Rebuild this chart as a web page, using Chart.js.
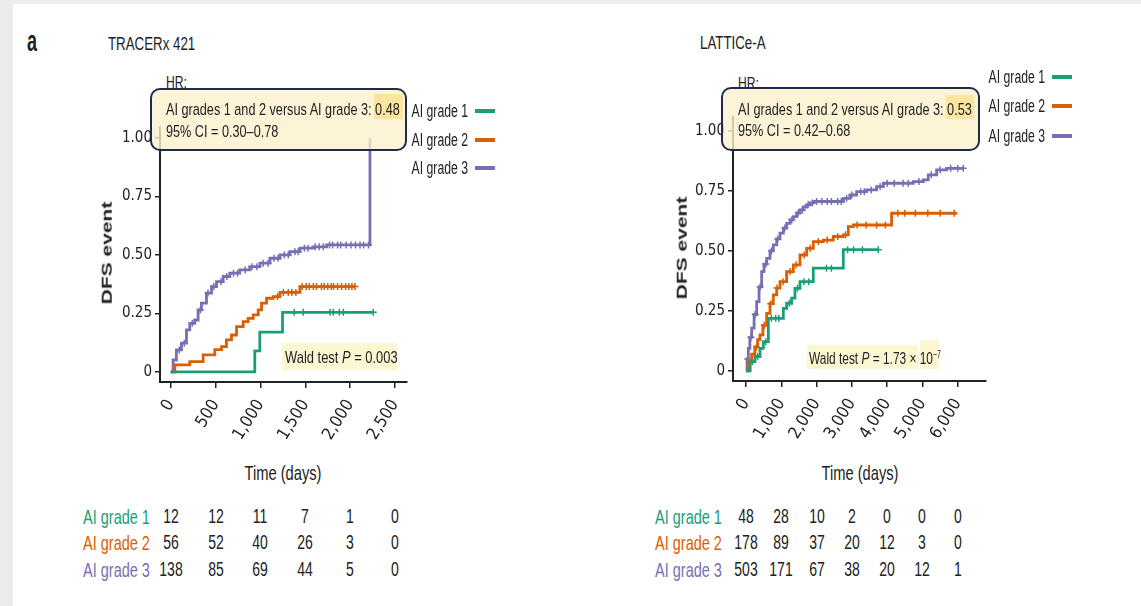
<!DOCTYPE html>
<html>
<head>
<meta charset="utf-8">
<script src="https://cdn.jsdelivr.net/npm/chart.js@4.4.0/dist/chart.umd.min.js"></script>
<style>
html, body { margin: 0; padding: 0; }
body { width: 1141px; height: 606px; background: #ececec; position: relative; overflow: hidden;
       font-family: 'Liberation Sans', Arial, sans-serif; color: #222; }
#panel { position: absolute; left: 13px; top: 4px; right: 0; bottom: 0; background: #fff; }
canvas { position: absolute; }
.t { position: absolute; white-space: nowrap; line-height: 1; }
.box { position: absolute; box-sizing: border-box; }
sup { font-size: 0.6em; vertical-align: 0.55em; line-height: 0; }
</style>
</head>
<body>
<div id="panel"></div>
<canvas id="tracerx" width="420" height="360" style="left:100px;top:100px;width:420px;height:360px"></canvas>
<canvas id="lattice" width="420" height="360" style="left:680px;top:100px;width:420px;height:360px"></canvas>
<script>
// colours (Dark2)
const green = '#1b9e77';
const orange = '#d95f02';
const purple = '#7570b3';
const ink = '#222';

const groupNames = ['AI grade 1', 'AI grade 2', 'AI grade 3'];
const yTicks = [0, 0.25, 0.5, 0.75, 1];

// ---- TRACERx 421 ----
const tracerxTicks = [0, 500, 1000, 1500, 2000, 2500];
const tracerxG1Time = [0, 937, 993, 1246, 2258];
const tracerxG1Dfs = [0, 0.09, 0.17, 0.255, 0.255];
const tracerxG1Censor = [1376, 1477, 1775, 1812, 1879, 1924, 2258];
const tracerxG2Time = [0, 45, 212, 361, 491, 566, 621, 677, 733, 808, 863, 919, 975, 1012, 1068, 1142, 1217, 1440, 2054];
const tracerxG2Dfs = [0, 0.03, 0.044, 0.073, 0.095, 0.108, 0.137, 0.158, 0.194, 0.215, 0.229, 0.244, 0.265, 0.294, 0.315, 0.322, 0.34, 0.365, 0.365];
const tracerxG2Censor = [1190, 1255, 1310, 1350, 1395, 1465, 1510, 1545, 1590, 1625, 1680, 1710, 1750, 1790, 1815, 1860, 1905, 1950, 1985, 2020, 2054];
const tracerxG3Time = [0, 26, 63, 119, 175, 212, 268, 305, 342, 398, 454, 510, 584, 659, 770, 882, 994, 1106, 1217, 1329, 1440, 1589, 1738, 2221];
const tracerxG3Dfs = [0, 0.051, 0.094, 0.123, 0.18, 0.208, 0.222, 0.265, 0.294, 0.337, 0.365, 0.386, 0.408, 0.422, 0.436, 0.45, 0.465, 0.486, 0.5, 0.514, 0.529, 0.535, 0.543, 1.0];
const tracerxG3Censor = [95, 150, 240, 330, 415, 480, 560, 625, 700, 745, 830, 905, 960, 1030, 1085, 1150, 1195, 1265, 1310, 1385, 1420, 1490, 1530, 1610, 1655, 1700, 1770, 1805, 1860, 1895, 1955, 2010, 2060, 2110, 2150, 2205];
const tracerxRiskG1 = [12, 12, 11, 7, 1, 0];
const tracerxRiskG2 = [56, 52, 40, 26, 3, 0];
const tracerxRiskG3 = [138, 85, 69, 44, 5, 0];

// ---- LATTICe-A ----
const latticeTicks = [0, 1000, 2000, 3000, 4000, 5000, 6000];
const latticeG1Time = [0, 119, 255, 397, 491, 633, 1058, 1152, 1294, 1388, 1530, 1907, 2757, 3748];
const latticeG1Dfs = [0, 0.039, 0.06, 0.094, 0.122, 0.219, 0.261, 0.282, 0.303, 0.344, 0.372, 0.428, 0.505, 0.505];
const latticeG1Censor = [180, 330, 560, 720, 840, 930, 1230, 1460, 1640, 1780, 2280, 2420, 2880, 3050, 3300, 3748];
const latticeG2Time = [0, 66, 160, 250, 330, 397, 480, 586, 680, 774, 870, 963, 1152, 1341, 1530, 1719, 1907, 2191, 2474, 2757, 2899, 3040, 4126, 5968];
const latticeG2Dfs = [0, 0.039, 0.07, 0.1, 0.13, 0.15, 0.19, 0.24, 0.28, 0.317, 0.345, 0.372, 0.414, 0.442, 0.483, 0.511, 0.539, 0.545, 0.56, 0.567, 0.601, 0.608, 0.657, 0.657];
const latticeG2Censor = [300, 520, 700, 880, 1050, 1250, 1420, 1650, 1820, 2050, 2300, 2600, 2820, 3150, 3400, 3700, 3950, 4300, 4500, 4800, 5150, 5500, 5900];
const latticeG3Time = [0, 30, 66, 110, 161, 230, 302, 370, 444, 510, 586, 680, 774, 870, 963, 1060, 1152, 1250, 1341, 1440, 1530, 1620, 1719, 1810, 1907, 2757, 2946, 3135, 3418, 3701, 3890, 4740, 5023, 5164, 5401, 5684, 6156];
const latticeG3Dfs = [0, 0.05, 0.094, 0.14, 0.178, 0.235, 0.289, 0.35, 0.414, 0.445, 0.469, 0.5, 0.525, 0.55, 0.574, 0.595, 0.615, 0.63, 0.643, 0.658, 0.671, 0.683, 0.692, 0.7, 0.706, 0.719, 0.733, 0.747, 0.754, 0.768, 0.782, 0.789, 0.796, 0.817, 0.838, 0.844, 0.844];
const latticeG3Censor = [50, 140, 260, 400, 560, 720, 900, 1100, 1300, 1480, 1600, 1760, 1880, 2000, 2150, 2300, 2420, 2600, 2700, 2850, 3000, 3250, 3350, 3550, 3800, 4000, 4200, 4450, 4600, 4900, 5250, 5500, 5800, 6000, 6156];
const latticeRiskG1 = [48, 28, 10, 2, 0, 0, 0];
const latticeRiskG2 = [178, 89, 37, 20, 12, 3, 0];
const latticeRiskG3 = [503, 171, 67, 38, 20, 12, 1];

function stepValue(time, dfs, t) {
    let v = dfs[0];
    for (let i = 0; i < time.length; i++) {
        if (time[i] <= t) v = dfs[i];
    }
    return v;
}

function curve(time, dfs, color) {
    return {
        data: time.map((t, i) => ({x: t, y: dfs[i]})),
        stepped: 'before',
        borderColor: color,
        borderWidth: 2.8,
        pointRadius: 0,
        fill: false
    };
}

function censor(times, time, dfs, color) {
    return {
        data: times.map(t => ({x: t, y: stepValue(time, dfs, t)})),
        showLine: false,
        borderColor: color,
        pointStyle: 'cross',
        pointRadius: 3.5,
        pointBorderColor: color,
        pointBorderWidth: 1.5
    };
}

const tickFont = "'DejaVu Sans Condensed', 'Liberation Sans Narrow', sans-serif";

function kmChart(id, datasets, xTicks, xMin, xMax, yMin, yMax, pad, yWidth, xHeight) {
    return new Chart(document.getElementById(id), {
        type: 'line',
        data: {datasets: datasets},
        options: {
            responsive: false,
            animation: false,
            layout: {padding: pad},
            plugins: {legend: {display: false}, tooltip: {enabled: false}},
            scales: {
                x: {
                    type: 'linear', min: xMin, max: xMax,
                    afterBuildTicks: s => { s.ticks = xTicks.map(v => ({value: v})); },
                    afterFit: s => { s.height = xHeight; },
                    border: {display: true, color: ink, width: 2},
                    grid: {drawOnChartArea: false, drawTicks: true, tickLength: 6, color: ink, lineWidth: 1.5},
                    ticks: {autoSkip: false, minRotation: 58, maxRotation: 58, padding: 8, color: ink,
                        font: {family: tickFont, size: 17},
                        callback: v => v.toLocaleString('en-US')}
                },
                y: {
                    min: yMin, max: yMax,
                    afterBuildTicks: s => { s.ticks = yTicks.map(v => ({value: v})); },
                    afterFit: s => { s.width = yWidth; },
                    border: {display: true, color: ink, width: 2},
                    grid: {drawOnChartArea: false, drawTicks: true, tickLength: 5, color: ink, lineWidth: 1.5},
                    ticks: {padding: 3, color: ink, font: {family: tickFont, size: 15},
                        callback: v => v === 0 ? '0' : v.toFixed(2)}
                }
            }
        }
    });
}

let chartTracerx = kmChart('tracerx', [
    curve(tracerxG1Time, tracerxG1Dfs, green),
    curve(tracerxG2Time, tracerxG2Dfs, orange),
    curve(tracerxG3Time, tracerxG3Dfs, purple),
    censor(tracerxG1Censor, tracerxG1Time, tracerxG1Dfs, green),
    censor(tracerxG2Censor, tracerxG2Time, tracerxG2Dfs, orange),
    censor(tracerxG3Censor, tracerxG3Time, tracerxG3Dfs, purple)
], tracerxTicks, -120, 2634, -0.043, 1.047, {left: 0, top: 27, right: 113, bottom: 0}, 60, 78);

let chartLattice = kmChart('lattice', [
    curve(latticeG1Time, latticeG1Dfs, green),
    curve(latticeG2Time, latticeG2Dfs, orange),
    curve(latticeG3Time, latticeG3Dfs, purple),
    censor(latticeG1Censor, latticeG1Time, latticeG1Dfs, green),
    censor(latticeG2Censor, latticeG2Time, latticeG2Dfs, orange),
    censor(latticeG3Censor, latticeG3Time, latticeG3Dfs, purple)
], latticeTicks, -368, 6800, -0.042, 1.058, {left: 0, top: 17, right: 114, bottom: 0}, 53, 79);

// ---- text and boxes ----
function txt(html, x, y, size, opts) {
    opts = opts || {};
    let d = document.createElement('div');
    d.className = 't';
    d.innerHTML = html;
    d.style.fontSize = size + 'px';
    d.style.top = (y - size / 2) + 'px';
    d.style.color = opts.color || ink;
    if (opts.bold) d.style.fontWeight = 'bold';
    let sx = opts.sx || 0.76;
    let align = opts.align || 'left';
    if (align === 'left') {
        d.style.left = x + 'px';
        d.style.transformOrigin = 'left center';
        d.style.transform = `scaleX(${sx})`;
    } else if (align === 'right') {
        d.style.right = (1141 - x) + 'px';
        d.style.transformOrigin = 'right center';
        d.style.transform = `scaleX(${sx})`;
    } else {
        d.style.left = x + 'px';
        d.style.transform = `translateX(-50%) scaleX(${sx})`;
    }
    document.body.appendChild(d);
    return d;
}

function box(x, y, w, h, css) {
    let d = document.createElement('div');
    d.className = 'box';
    d.style.left = x + 'px';
    d.style.top = y + 'px';
    d.style.width = w + 'px';
    d.style.height = h + 'px';
    Object.assign(d.style, css);
    document.body.appendChild(d);
    return d;
}

function vlabel(text, x, y) {
    let d = document.createElement('div');
    d.className = 't';
    d.textContent = text;
    d.style.fontSize = '21px';
    d.style.fontWeight = 'bold';
    d.style.left = x + 'px';
    d.style.top = y + 'px';
    d.style.transform = 'translate(-50%, -50%) rotate(-90deg) scaleY(0.72)';
    document.body.appendChild(d);
}

function legend(rightX, ys) {
    const colors = [green, orange, purple];
    for (let i = 0; i < 3; i++) {
        txt(groupNames[i], rightX, ys[i], 18, {align: 'right', sx: 0.68});
        box(rightX + 7, ys[i] - 2, 20, 4, {background: colors[i]});
    }
}

function riskTable(chart, canvasLeft, labelRight, rows, ticks) {
    const colors = [green, orange, purple];
    const ys = [516, 542, 569];
    for (let r = 0; r < 3; r++) {
        txt(groupNames[r], labelRight, ys[r], 21, {align: 'right', sx: 0.69, color: colors[r]});
        for (let i = 0; i < ticks.length; i++) {
            let x = canvasLeft + chart.scales.x.getPixelForValue(ticks[i]);
            txt(String(rows[r][i]), x, ys[r], 20, {align: 'center', sx: 0.7});
        }
    }
}

// panel letter and titles
txt('a', 27, 41, 30, {bold: true, sx: 0.6});
txt('TRACERx 421', 108, 43, 19, {sx: 0.7});
txt('LATTICe-A', 700, 42, 19, {sx: 0.7});

// axis titles
vlabel('DFS event', 106, 253);
vlabel('DFS event', 681, 248);
txt('Time (days)', 283, 472, 21, {align: 'center', sx: 0.7});
txt('Time (days)', 860, 472, 21, {align: 'center', sx: 0.7});

// HR boxes
txt('HR:', 166, 83, 16, {sx: 0.76});
box(150, 88, 257, 63, {border: '2.5px solid #1f2c47', borderRadius: '10px', background: 'rgba(253,241,205,0.8)'});
box(374, 94, 29, 25, {background: '#fbe5a0'});
txt('AI grades 1 and 2 versus AI grade 3: 0.48', 166, 109, 17, {sx: 0.745});
txt('95% CI = 0.30–0.78', 166, 131, 17, {sx: 0.745});

txt('HR:', 738, 84, 16, {sx: 0.76});
box(721, 87, 259, 64, {border: '2.5px solid #1f2c47', borderRadius: '10px', background: 'rgba(253,241,205,0.8)'});
box(946, 95, 28, 24, {background: '#fbe5a0'});
txt('AI grades 1 and 2 versus AI grade 3: 0.53', 738, 109, 17, {sx: 0.745});
txt('95% CI = 0.42–0.68', 738, 130, 17, {sx: 0.745});

// Wald tests
box(282, 343, 115, 27, {background: '#fdf6d2'});
txt('Wald test <i>P</i> = 0.003', 285, 357, 17, {sx: 0.76});
box(807, 345, 111, 24, {background: '#fdf6d2'});
box(920, 340, 19, 29, {background: '#fdf6d2'});
txt('Wald test <i>P</i> = 1.73 × 10<sup>−7</sup>', 809, 358, 17, {sx: 0.7});

// legends
legend(468, [111, 140, 168]);
legend(1045, [77, 106, 136]);

// numbers at risk
riskTable(chartTracerx, 100, 150, [tracerxRiskG1, tracerxRiskG2, tracerxRiskG3], tracerxTicks);
riskTable(chartLattice, 680, 722, [latticeRiskG1, latticeRiskG2, latticeRiskG3], latticeTicks);
</script>
</body>
</html>
